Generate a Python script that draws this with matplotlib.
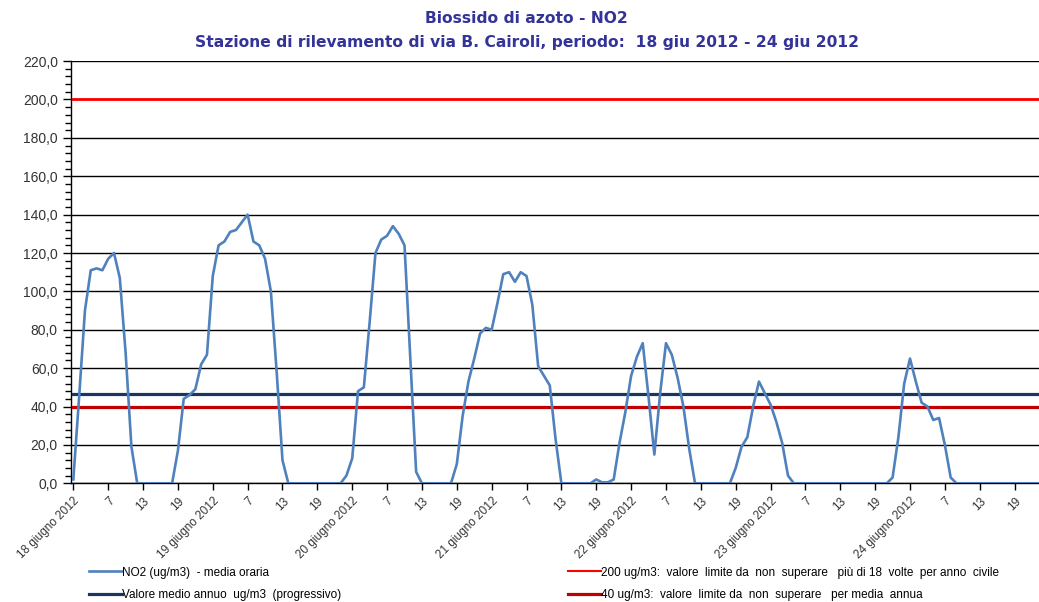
import matplotlib
matplotlib.use("Agg")
import matplotlib.pyplot as plt
from matplotlib.lines import Line2D
from matplotlib.ticker import MultipleLocator
import numpy as np

# hourly NO2, 18 giu 2012 h1 -> 24 giu 2012 h24
no2 = [
    2, 45, 90, 111, 112, 111, 117, 120, 107, 68, 19, 0, 0, 0, 0, 0, 0, 0, 17, 44, 46, 49, 62, 67,
    108, 124, 126, 131, 132, 136, 140, 126, 124, 117, 100, 58, 12, 0, 0, 0, 0, 0, 0, 0, 0, 0, 0, 4,
    13, 48, 50, 84, 120, 127, 129, 134, 130, 124, 65, 6, 0, 0, 0, 0, 0, 0, 10, 35, 53, 65, 78, 81,
    80, 94, 109, 110, 105, 110, 108, 93, 61, 56, 51, 23, 0, 0, 0, 0, 0, 0, 2, 0.5, 0.5, 2, 21, 37,
    56, 66, 73, 45, 15, 47, 73, 67, 55, 40, 18, 0, 0, 0, 0, 0, 0, 0, 8, 19, 24, 40, 53, 47,
    41, 32, 21, 4, 0, 0, 0, 0, 0, 0, 0, 0, 0, 0, 0, 0, 0, 0, 0, 0, 0, 3, 24, 52,
    65, 53, 42, 40, 33, 34, 20, 3, 0, 0, 0, 0, 0, 0, 0, 0, 0, 0, 0, 0, 0, 0, 0, 0,
]
media_annua = 46.3
limite_orario = 200
limite_annuo = 40

giorni = ['18 giugno 2012', '19 giugno 2012', '20 giugno 2012', '21 giugno 2012',
          '22 giugno 2012', '23 giugno 2012', '24 giugno 2012']
ore = ['7', '13', '19']

hours = np.arange(len(no2))
mean_line = [media_annua] * len(no2)
lim200 = [limite_orario] * len(no2)
lim40 = [limite_annuo] * len(no2)

plt.rcParams['font.family'] = ['Liberation Sans', 'DejaVu Sans']

fig = plt.figure(figsize=(10.39, 6.02), dpi=100)
ax = fig.add_axes([71 / 1039, 118.7 / 602, 968 / 1039, 422.2 / 602])

ax.plot(hours, lim200, color='#FF0000', lw=2.0, zorder=3)
ax.plot(hours, lim40, color='#C00000', lw=2.3, zorder=3)
ax.plot(hours, mean_line, color='#17375E', lw=2.3, zorder=3)
ax.plot(hours, no2, color='#4F81BD', lw=1.9, zorder=4)

ax.set_ylim(0, 220)
ax.set_xlim(-0.4, 166.2)
ax.yaxis.set_minor_locator(MultipleLocator(4))
yt = np.arange(0, 221, 20)
ax.set_yticks(yt)
ax.set_yticklabels([f'{v:.1f}'.replace('.', ',') for v in yt], color='#333333', fontsize=10)
ax.grid(axis='y', color='black', lw=1.0)
ax.set_axisbelow(True)

ticks = np.arange(0, 167, 6)
labels = []
for d in giorni:
    labels += [d] + ore
ax.set_xticks(ticks)
ax.set_xticklabels(labels[:len(ticks)], rotation=45, ha='right', va='top',
                   rotation_mode='anchor', fontsize=8.5, color='#333333')

for s in ['top', 'right']:
    ax.spines[s].set_visible(False)
ax.spines['left'].set_linewidth(1.0)
ax.spines['bottom'].set_linewidth(1.0)
ax.tick_params(axis='y', which='major', length=6, width=1)
ax.tick_params(axis='y', which='minor', length=4, width=1)
ax.tick_params(axis='x', length=5, width=1)

fig.text(0.507, 0.97, 'Biossido di azoto - NO2', ha='center', va='center',
         fontsize=11.2, fontweight='bold', color='#333399', family='DejaVu Sans')
fig.text(0.507, 0.93, 'Stazione di rilevamento di via B. Cairoli, periodo:  18 giu 2012 - 24 giu 2012',
         ha='center', va='center', fontsize=11.2, fontweight='bold', color='#333399',
         family='DejaVu Sans')

h1 = [Line2D([], [], color='#4F81BD', lw=1.9), Line2D([], [], color='#17375E', lw=2.3)]
l1 = ['NO2 (ug/m3)  - media oraria', 'Valore medio annuo  ug/m3  (progressivo)']
h2 = [Line2D([], [], color='#FF0000', lw=1.5), Line2D([], [], color='#C00000', lw=2.3)]
l2 = ['200 ug/m3:  valore  limite da  non  superare   più di 18  volte  per anno  civile',
      '40 ug/m3:  valore  limite da  non  superare   per media  annua']
leg1 = fig.legend(h1, l1, loc='upper left', bbox_to_anchor=(78 / 1039, 1 - 556 / 602),
                  frameon=False, fontsize=8.5, handlelength=2.8, handletextpad=0.0,
                  labelspacing=0.85)
leg2 = fig.legend(h2, l2, loc='upper left', bbox_to_anchor=(557 / 1039, 1 - 556 / 602),
                  frameon=False, fontsize=8.5, handlelength=2.8, handletextpad=0.0,
                  labelspacing=0.85)

fig.savefig('out.png', dpi=100)
